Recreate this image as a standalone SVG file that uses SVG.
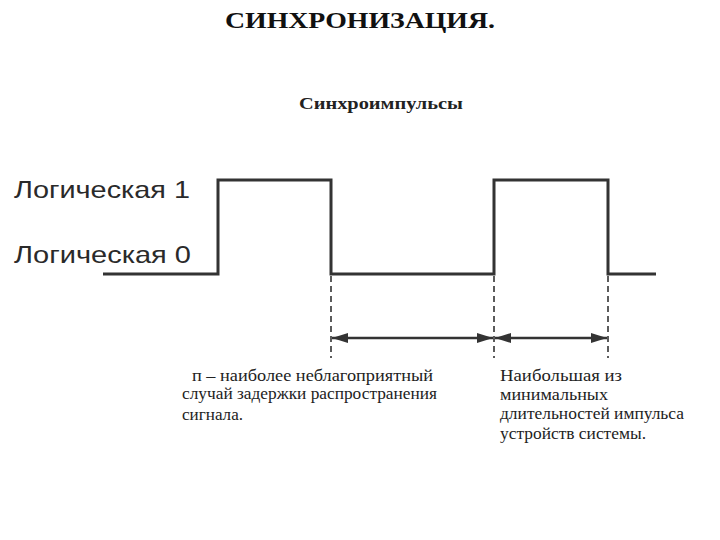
<svg xmlns="http://www.w3.org/2000/svg" width="720" height="540" viewBox="0 0 720 540">
<style>
.sig{fill:none;stroke:#333;stroke-width:3;stroke-linejoin:miter}
.dash{fill:none;stroke:#333;stroke-width:1.6;stroke-dasharray:6,4}
.arr{fill:none;stroke:#333;stroke-width:2.4;marker-start:url(#a);marker-end:url(#a)}
.lbl{font-family:"Liberation Sans",Arial,sans-serif;font-size:24px;fill:#2a2a2a}
.ser{font-family:"Liberation Serif","Times New Roman",serif;font-size:16px;fill:#222}
.ttl{font-family:"Liberation Serif","Times New Roman",serif;font-size:24px;font-weight:bold;fill:#111}
</style>
<defs>
<marker id="a" viewBox="0 0 16 10" refX="16" refY="5" markerWidth="16" markerHeight="10" markerUnits="userSpaceOnUse" orient="auto-start-reverse">
<path d="M0,0 L16,5 L0,10 Z" fill="#333"/>
</marker>
</defs>
<rect width="720" height="540" fill="#fff"/>
<g id="title"><text class="ttl" x="360" y="28" text-anchor="middle" textLength="270" lengthAdjust="spacingAndGlyphs">СИНХРОНИЗАЦИЯ.</text></g>
<g id="sync-label"><text class="ser" x="299" y="109" font-size="15" textLength="164" lengthAdjust="spacingAndGlyphs" style="font-weight:bold">Синхроимпульсы</text></g>
<g id="level1"><text class="lbl" x="14" y="198" textLength="176" lengthAdjust="spacingAndGlyphs">Логическая 1</text></g>
<g id="level0"><text class="lbl" x="14" y="263" textLength="177" lengthAdjust="spacingAndGlyphs">Логическая 0</text></g>
<g id="signal"><path class="sig" d="M103,274 H218 V180 H331 V274 H494 V180 H608 V274 H656"/></g>
<g id="connectors">
<line class="dash" x1="331" y1="276" x2="331" y2="358"/>
<line class="dash" x1="494" y1="276" x2="494" y2="358"/>
<line class="dash" x1="608" y1="276" x2="608" y2="358"/>
<line class="arr" x1="332" y1="338" x2="493" y2="338"/>
<line class="arr" x1="495" y1="338" x2="607" y2="338"/>
</g>
<g id="delay-note">
<text class="ser" x="192" y="381" textLength="241" lengthAdjust="spacingAndGlyphs">п – наиболее неблагоприятный</text>
<text class="ser" x="182" y="399" textLength="255" lengthAdjust="spacingAndGlyphs">случай задержки распространения</text>
<text class="ser" x="182" y="420" textLength="61" lengthAdjust="spacingAndGlyphs">сигнала.</text>
</g>
<g id="pulse-note">
<text class="ser" x="500" y="381" font-size="17" textLength="122" lengthAdjust="spacingAndGlyphs">Наибольшая из</text>
<text class="ser" x="500" y="400" textLength="108" lengthAdjust="spacingAndGlyphs">минимальных</text>
<text class="ser" x="500" y="419" textLength="184" lengthAdjust="spacingAndGlyphs">длительностей импульса</text>
<text class="ser" x="500" y="439" textLength="146" lengthAdjust="spacingAndGlyphs">устройств системы.</text>
</g>
</svg>
